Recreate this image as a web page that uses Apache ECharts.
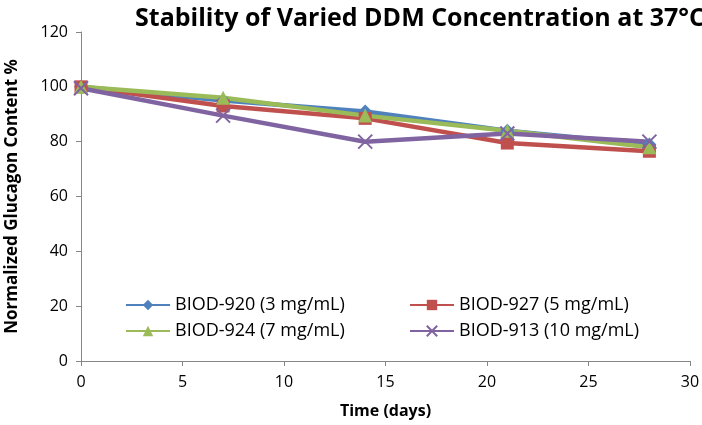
<!DOCTYPE html>
<html>
<head>
<meta charset="utf-8">
<script src="https://cdn.jsdelivr.net/npm/echarts@6/dist/echarts.min.js"></script>
<style>
  html, body { margin: 0; padding: 0; background: #fff; }
  #chart { width: 702px; height: 425px; }
</style>
</head>
<body>
<div id="chart"></div>
<script>
const days = [0, 7, 14, 21, 28]
const seriesNames = ['BIOD-920 (3 mg/mL)', 'BIOD-927 (5 mg/mL)', 'BIOD-924 (7 mg/mL)', 'BIOD-913 (10 mg/mL)']
const biod920 = [100, 95, 91, 84, 79]
const biod927 = [100, 93, 88.5, 79.5, 76.5]
const biod924 = [100, 96, 89.5, 84, 78]
const biod913 = [99.5, 89.5, 80, 83, 80]

const colors = ['#4F81BD', '#C0504D', '#9BBB59', '#8064A2']
const symbols = ['diamond', 'rect', 'triangle', 'x']
const values = [biod920, biod927, biod924, biod913]

// excel-style "x" marker
const xPath = 'path://M0,0 L10,10 M10,0 L0,10'

const font = '"Open Sans", "Noto Sans", sans-serif'

const chart = echarts.init(document.getElementById('chart'))

const series = values.map((v, i) => ({
  name: seriesNames[i],
  type: 'line',
  data: v.map((y, k) => [days[k], y]),
  color: colors[i],
  lineStyle: { width: 4.5, color: colors[i] },
  symbol: symbols[i] === 'x' ? xPath : symbols[i],
  symbolSize: symbols[i] === 'rect' ? 13 : 14,
  itemStyle: symbols[i] === 'x'
    ? { color: 'none', borderColor: colors[i], borderWidth: 2 }
    : { color: colors[i] },
  animation: false
}))

// one legend per entry so they sit in a 2x2 block like the original
const legendPos = [
  { left: 120, top: 291 },
  { left: 404, top: 291 },
  { left: 120, top: 317 },
  { left: 404, top: 317 }
]
const legend = seriesNames.map((n, i) => ({
  data: [n],
  left: legendPos[i].left,
  top: legendPos[i].top,
  itemWidth: 44,
  itemHeight: 13,
  itemGap: 4,
  textStyle: { fontFamily: font, fontSize: 18, color: '#000' }
}))

chart.setOption({
  animation: false,
  title: {
    text: 'Stability of Varied DDM Concentration at 37°C',
    left: 415,
    textAlign: 'center',
    top: 1,
    textStyle: { fontFamily: font, fontSize: 25, fontWeight: 'bold', color: '#000' }
  },
  legend,
  grid: { left: 81, right: 12, top: 32, bottom: 64, containLabel: false, outerBoundsMode: 'none' },
  xAxis: {
    type: 'value',
    min: 0,
    max: 30,
    interval: 5,
    name: 'Time (days)',
    nameLocation: 'middle',
    nameGap: 42,
    nameTextStyle: { fontFamily: font, fontSize: 16, fontWeight: 'bold', color: '#000' },
    axisLine: { lineStyle: { color: '#868686', width: 1 } },
    axisTick: { show: true, length: 5, lineStyle: { color: '#868686' } },
    axisLabel: { fontFamily: font, fontSize: 16, color: '#000', margin: 13 },
    splitLine: { show: false }
  },
  yAxis: {
    type: 'value',
    min: 0,
    max: 120,
    interval: 20,
    name: 'Normalized Glucagon Content %',
    nameLocation: 'middle',
    nameGap: 60,
    nameTextStyle: { fontFamily: font, fontSize: 17, fontWeight: 'bold', color: '#000' },
    axisLine: { show: true, lineStyle: { color: '#868686', width: 1 } },
    axisTick: { show: true, length: 5, lineStyle: { color: '#868686' } },
    axisLabel: { fontFamily: font, fontSize: 16, color: '#000', margin: 13 },
    splitLine: { show: false }
  },
  series
})
</script>
</body>
</html>
